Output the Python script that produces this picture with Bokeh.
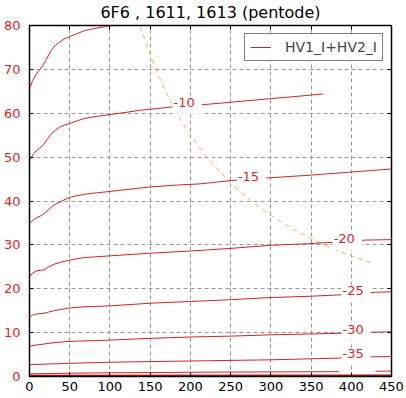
from bokeh.plotting import figure
from bokeh.models import (Range1d, LinearAxis, FixedTicker, Label, Legend, LegendItem,
                          CustomLabelingPolicy)
from bokeh.embed import file_html
from bokeh.resources import INLINE

RED = "#dc1f26"
FONT = "DejaVu Sans"

title_text = "6F6 , 1611, 1613 (pentode)"
legend_label = "HV1_I+HV2_I"
x_ticks = [0, 50, 100, 150, 200, 250, 300, 350, 400, 450]
y_ticks = [0, 10, 20, 30, 40, 50, 60, 70, 80]

# plate voltage (V) vs plate+screen current (mA) per grid voltage
g5_x = [0, 4, 8, 12, 16, 21, 26.5, 32, 37, 43, 50, 60, 68, 80, 96, 105]
g5_y = [65.6, 67.5, 68.8, 69.8, 70.7, 72.3, 74.2, 75.4, 76.2, 76.9, 77.5, 78.2, 78.8, 79.3, 79.8, 80.1]

g10_x = [0, 4, 8, 13, 17.5, 22, 26.5, 32, 37, 43, 49, 58, 68, 84, 100, 120, 138, 160, 175, 200, 218, 250, 298, 330, 365]
g10_y = [49.2, 50.5, 51.4, 52.1, 52.9, 54.0, 55.2, 56.1, 56.8, 57.3, 57.6, 58.2, 58.8, 59.3, 59.7, 60.2, 60.7, 61.1, 61.4, 61.7, 62.0, 62.5, 63.3, 63.8, 64.4]

g15_x = [0, 4, 9, 14, 18, 24, 30.6, 40, 49, 58, 68, 80, 96, 120, 150, 180, 212, 253, 299, 350, 400, 450]
g15_y = [34.8, 35.6, 36.2, 36.6, 37.1, 38.1, 39.1, 40.0, 40.75, 41.2, 41.5, 41.8, 42.1, 42.6, 43.2, 43.6, 43.9, 44.7, 45.3, 45.9, 46.6, 47.3]

g20_x = [0, 4, 9, 14, 18, 24, 30.6, 40, 49, 58, 68, 100, 150, 200, 250, 300, 350, 395, 418, 450]
g20_y = [22.7, 23.6, 24.1, 24.2, 24.3, 25.0, 25.6, 26.1, 26.5, 26.8, 27.1, 27.5, 28.1, 28.6, 29.2, 29.9, 30.3, 30.8, 31.1, 31.2]

g25_x = [0, 4, 9, 14, 18, 24, 30.6, 40, 49, 68, 100, 150, 200, 250, 300, 350, 385, 407, 430, 450]
g25_y = [13.5, 14.0, 14.25, 14.35, 14.4, 14.7, 15.0, 15.3, 15.6, 15.9, 16.1, 16.7, 17.1, 17.5, 18.0, 18.3, 18.6, 18.9, 19.2, 19.3]

g30_x = [0, 9, 18, 30, 49, 100, 150, 200, 250, 300, 350, 385, 430, 450]
g30_y = [6.9, 7.2, 7.4, 7.7, 8.0, 8.3, 8.7, 9.0, 9.2, 9.5, 9.7, 9.85, 10.1, 10.2]

g35_x = [0, 49, 100, 150, 224, 300, 385, 430, 450]
g35_y = [2.7, 3.0, 3.25, 3.4, 3.6, 3.8, 4.2, 4.5, 4.55]

g40_x = [0, 50, 100, 150, 224, 300, 385, float("nan"), 430, 450]
g40_y = [0.6, 0.75, 0.85, 0.9, 1.0, 1.05, 1.1, float("nan"), 1.2, 1.25]

g45_x = [0, 450]
g45_y = [0.15, 0.2]

# max plate dissipation curve
pd_x = [137.5, 145, 158, 170, 185, 195, 218, 250, 275, 300, 325, 350, 375, 400, 424]
pd_y = [80, 75.9, 69.6, 64.7, 59.5, 56.4, 50.5, 44.0, 40.0, 36.7, 33.8, 31.4, 29.3, 27.5, 25.9]

label_texts = ["-10", "-15", "-20", "-25", "-30", "-35"]
label_x = [196, 276, 395, 406, 406, 406]
label_y = [61.8, 45.0, 30.8, 18.9, 10.1, 4.55]

p = figure(width=406, height=398, x_range=Range1d(0, 450), y_range=Range1d(0, 80),
           output_backend="svg", toolbar_location=None,
           min_border_left=28, min_border_right=15, min_border_top=24, min_border_bottom=22)

p.title.text = title_text
p.title.align = "center"
p.title.text_font = FONT
p.title.text_font_size = "16px"
p.title.text_font_style = "normal"
p.title.text_color = "black"
p.title.standoff = 0
p.title.offset = 0
p.title.text_line_height = 1.0

p.outline_line_color = "black"
p.outline_line_width = 1.5
p.background_fill_color = "white"
p.border_fill_color = "white"

for g in (p.xgrid, p.ygrid):
    g.grid_line_color = "#999999"
    g.grid_line_dash = "4 3"
    g.grid_line_width = 1
p.xgrid.ticker = FixedTicker(ticks=x_ticks)
p.ygrid.ticker = FixedTicker(ticks=y_ticks)

def style_axis(ax, color="black", standoff=4, size="13px"):
    ax.axis_line_color = "black"
    ax.major_tick_in = 4
    ax.major_tick_out = 0
    ax.minor_tick_line_color = None
    ax.major_tick_line_color = "black"
    ax.major_label_text_font = FONT
    ax.major_label_text_font_size = size
    ax.major_label_text_color = color
    ax.major_label_standoff = standoff

p.xaxis.ticker = FixedTicker(ticks=x_ticks)
p.yaxis.ticker = FixedTicker(ticks=y_ticks)
style_axis(p.xaxis[0], standoff=5)
style_axis(p.yaxis[0], color=RED, standoff=9)

no_labels = "for (const i of indices) { indices.unset(i) }\nreturn indices"
ax_top = LinearAxis(ticker=FixedTicker(ticks=x_ticks),
                    major_label_policy=CustomLabelingPolicy(code=no_labels))
style_axis(ax_top, standoff=0, size="1px")
p.add_layout(ax_top, "above")
ax_right = LinearAxis(ticker=FixedTicker(ticks=y_ticks),
                      major_label_policy=CustomLabelingPolicy(code=no_labels))
style_axis(ax_right, standoff=0, size="1px")
p.add_layout(ax_right, "right")

p.line(pd_x, pd_y, line_color="#f2b256", line_width=1, line_dash="5 4")

main = p.line(g5_x, g5_y, line_color=RED, line_width=1)
for xs, ys in [(g10_x, g10_y), (g15_x, g15_y), (g20_x, g20_y), (g25_x, g25_y),
               (g30_x, g30_y), (g35_x, g35_y), (g40_x, g40_y)]:
    p.line(xs, ys, line_color=RED, line_width=1)
p.line(g45_x, g45_y, line_color="#8a1010", line_width=2)

for t, lx, ly in zip(label_texts, label_x, label_y):
    p.add_layout(Label(x=lx, y=ly, text=t, text_align="center", text_baseline="middle",
                       text_color=RED, text_font=FONT, text_font_size="13px",
                       background_fill_color="white", padding=(1, 7, 1, 7)))

legend = Legend(items=[LegendItem(label=legend_label, renderers=[main])],
                location="top_right", border_line_color="black", border_line_width=1,
                background_fill_color="white", background_fill_alpha=1,
                label_text_font=FONT, label_text_font_size="14px",
                glyph_width=21, glyph_height=12, label_height=12, label_standoff=14,
                padding=5, margin=8, spacing=0)
p.add_layout(legend)

open("out.html", "w").write(file_html(p, INLINE))
